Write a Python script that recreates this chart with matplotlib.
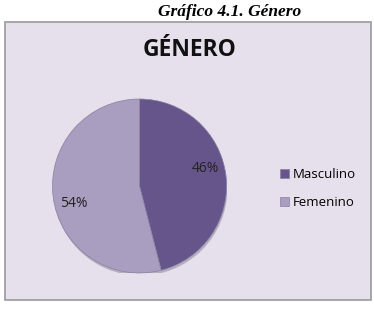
import matplotlib
matplotlib.use("Agg")
import numpy as np
import matplotlib.pyplot as plt
from matplotlib.patches import Rectangle, Ellipse

categories = ["Masculino", "Femenino"]
values = [46, 54]
colors = ["#66558A", "#A99DC0"]
caption = "Gráfico 4.1. Género"
title = "GÉNERO"

W, H = 374, 309
fig = plt.figure(figsize=(W / 100, H / 100), dpi=100)
fig.patch.set_facecolor("white")

# chart area box
box = Rectangle((5 / W, 1 - 300 / H), 366 / W, 278 / H, transform=fig.transFigure,
                facecolor="#E5E0EC", edgecolor="#9A9A9A", linewidth=1.2, zorder=-5)
fig.patches.append(box)

fig.text(229.5 / W, 1 - 12 / H, caption, ha="center", va="center",
         family="Liberation Serif", style="italic", weight="bold", fontsize=12.5)
fig.text(190 / W, 1 - 50 / H, title, ha="center", va="center",
         family="Open Sans", weight="bold", fontsize=16.5, color="#111111")

cx, cy, r = 139.5, 186, 87
ax = fig.add_axes([(cx - r) / W, 1 - (cy + r) / H, 2 * r / W, 2 * r / H])
ax.patch.set_visible(False)
ax.add_patch(Ellipse((0.01, -0.03), 2.0, 2.0, facecolor="#5A5270", alpha=0.35,
                     edgecolor="none", zorder=0))
wedges, texts, autotexts = ax.pie(values, colors=colors, startangle=90, counterclock=False,
                                  autopct="%d%%", pctdistance=0.78, radius=1.0,
                                  wedgeprops=dict(edgecolor="#8A80A0", linewidth=0.5),
                                  textprops=dict(family="Open Sans", fontsize=10, color="#222222"))
# labels sit slightly rotated (perspective of the original 3D pie)
rot = np.deg2rad(8)
for t in autotexts:
    x, y = t.get_position()
    t.set_position((x * np.cos(rot) - y * np.sin(rot), x * np.sin(rot) + y * np.cos(rot)))
ax.set_xlim(-1, 1)
ax.set_ylim(-1, 1)
ax.set_aspect("equal")
ax.axis("off")

fig.legend(wedges, categories, loc="center left", bbox_to_anchor=(280 / W, 1 - 188.5 / H),
           frameon=False, prop=dict(family="Open Sans", size=9.5),
           handlelength=0.7, handleheight=0.7, handletextpad=0.3, labelspacing=1.1,
           borderaxespad=0, borderpad=0)

fig.savefig("out.png", dpi=100, facecolor="white")
